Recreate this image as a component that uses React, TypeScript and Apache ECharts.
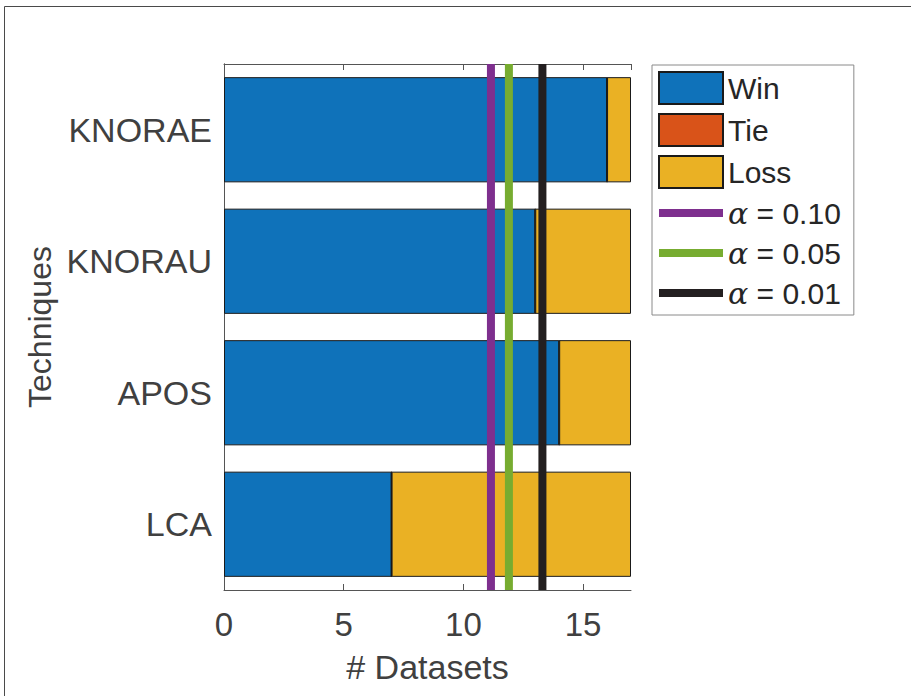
import React, { useEffect, useRef } from "react";
import * as echarts from "echarts";

const categories = ["LCA", "APOS", "KNORAU", "KNORAE"];
const winValues = [7, 14, 13, 16];
const tieValues = [0, 0, 0, 0];
const lossValues = [10, 3, 4, 1];
const alphaLabels = ["α = 0.10", "α = 0.05", "α = 0.01"];
const alphaThresholds = [11.15, 11.9, 13.3];
const alphaColors = ["#7E2F8E", "#77AC30", "#231F20"];
const xMin = 0;
const xMax = 17;
const xInterval = 5;

const FONT = "'Liberation Sans', Arial, Helvetica, sans-serif";
const LINE_ICON =
  "path://M0,0L0.01,0L0,0.01Z M0,12L64,12L64,20L0,20Z M64,32L63.99,32L64,31.99Z";

export default function App() {
  const ref = useRef<HTMLDivElement>(null);
  useEffect(() => {
    if (!ref.current) return;
    const chart = echarts.init(ref.current, undefined, { renderer: "svg" });
    const barStyle = (color: string) => ({
      color,
      borderColor: "#1a1a1a",
      borderWidth: 1,
    });
    const lineSeries = alphaLabels.map((name, i) => ({
      name,
      type: "line",
      xAxisIndex: 0,
      yAxisIndex: 1,
      data: [
        [alphaThresholds[i], 0],
        [alphaThresholds[i], 1],
      ],
      symbol: "none",
      lineStyle: { width: 8, color: alphaColors[i], cap: "butt" },
      itemStyle: { color: alphaColors[i] },
      z: 5,
      silent: true,
    }));
    chart.setOption({
      animation: false,
      textStyle: { fontFamily: FONT },
      graphic: [
        {
          type: "rect",
          shape: { x: 4.5, y: 6.5, width: 1000, height: 1000 },
          style: { fill: "none", stroke: "#4a4a4a", lineWidth: 1 },
          silent: true,
        },
      ],
      grid: { left: 224, top: 64, width: 407, height: 526 },
      legend: {
        orient: "vertical",
        left: 652,
        top: 65,
        padding: [6, 13, 6, 6],
        itemWidth: 64,
        itemHeight: 32,
        itemGap: 8,
        icon: "rect",
        borderColor: "#8a8a8a",
        borderWidth: 1,
        backgroundColor: "#fff",
        selectedMode: false,
        textStyle: {
          fontFamily: FONT,
          fontSize: 30,
          lineHeight: 30,
          color: "#262626",
          rich: {
            a: {
              fontFamily: "'DejaVu Serif', 'Liberation Serif', serif",
              fontStyle: "italic",
              fontSize: 30,
              lineHeight: 30,
              color: "#262626",
            },
          },
        },
        formatter: (name: string) => name.replace("α", "{a|α}"),
        data: [
          { name: "Win" },
          { name: "Tie" },
          { name: "Loss" },
          ...alphaLabels.map((name, i) => ({
            name,
            icon: LINE_ICON,
            itemStyle: { color: alphaColors[i], borderWidth: 0 },
            lineStyle: { width: 0, opacity: 0 },
          })),
        ],
      },
      xAxis: [
        {
          type: "value",
          position: "bottom",
          min: xMin,
          max: xMax,
          interval: xInterval,
          name: "# Datasets",
          nameLocation: "middle",
          nameGap: 60,
          nameTextStyle: { fontSize: 34, color: "#404040", fontFamily: FONT },
          axisLine: { show: true, lineStyle: { color: "#555", width: 1 } },
          axisTick: { show: true, inside: true, length: 6, lineStyle: { color: "#555" } },
          axisLabel: {
            fontSize: 33,
            color: "#404040",
            margin: 18,
            fontFamily: FONT,
            showMaxLabel: false,
          },
          splitLine: { show: false },
        },
        {
          type: "value",
          position: "top",
          min: xMin,
          max: xMax,
          interval: xInterval,
          axisLine: { show: true, lineStyle: { color: "#555", width: 1 } },
          axisTick: { show: true, inside: true, length: 6, lineStyle: { color: "#555" } },
          axisLabel: { show: false },
          splitLine: { show: false },
        },
      ],
      yAxis: [
        {
          type: "category",
          data: categories,
          name: "Techniques",
          nameLocation: "middle",
          nameRotate: 90,
          nameGap: 168,
          nameTextStyle: { fontSize: 32, color: "#404040", fontFamily: FONT },
          axisLine: { show: true, lineStyle: { color: "#555", width: 1 } },
          axisTick: { show: false },
          axisLabel: { fontSize: 34, color: "#404040", margin: 12, fontFamily: FONT },
          splitLine: { show: false },
        },
        {
          type: "value",
          position: "right",
          min: 0,
          max: 1,
          axisLine: { show: true, lineStyle: { color: "#555", width: 1 } },
          axisTick: { show: false },
          axisLabel: { show: false },
          splitLine: { show: false },
        },
      ],
      series: [
        {
          name: "Win",
          type: "bar",
          stack: "total",
          barCategoryGap: "20%",
          data: winValues,
          itemStyle: barStyle("#0F72BA"),
        },
        {
          name: "Tie",
          type: "bar",
          stack: "total",
          barCategoryGap: "20%",
          data: tieValues,
          itemStyle: barStyle("#D95319"),
        },
        {
          name: "Loss",
          type: "bar",
          stack: "total",
          barCategoryGap: "20%",
          data: lossValues,
          itemStyle: barStyle("#EAB124"),
        },
        ...lineSeries,
      ],
    });
    return () => chart.dispose();
  }, []);
  return (
    <div
      ref={ref}
      style={{ position: "absolute", left: 0, top: 0, width: 911, height: 696, background: "#fff" }}
    />
  );
}
